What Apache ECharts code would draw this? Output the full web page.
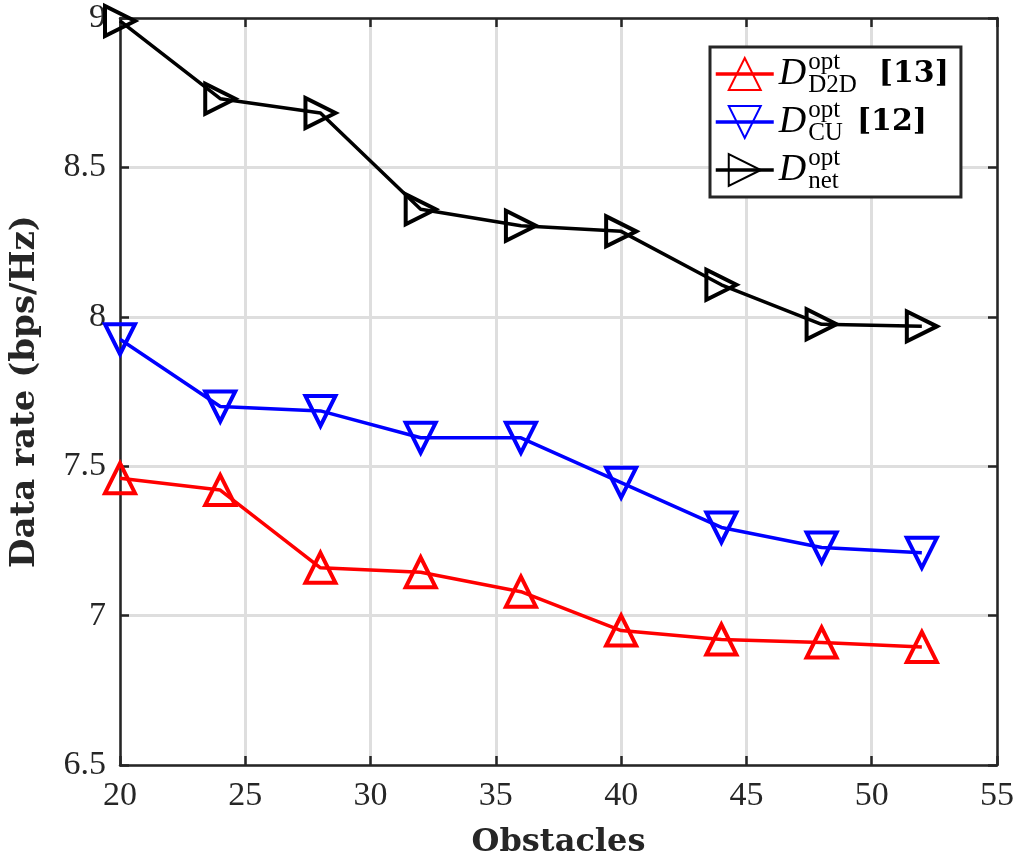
<!DOCTYPE html>
<html>
<head>
<meta charset="utf-8">
<script src="https://cdn.jsdelivr.net/npm/echarts@6/dist/echarts.min.js"></script>
<style>
  html, body { margin: 0; padding: 0; background: #fff; }
  #container { width: 1026px; height: 864px; }
</style>
</head>
<body>
<div id="container"></div>
<script>
  var dom = document.getElementById("container");
  var myChart = echarts.init(dom);

  // data
  var obstacles = [20, 24, 28, 32, 36, 40, 44, 48, 52];
  var rateD2D = [7.46, 7.42, 7.16, 7.145, 7.08, 6.95, 6.92, 6.91, 6.895];
  var rateCU = [7.925, 7.70, 7.685, 7.595, 7.595, 7.445, 7.295, 7.228, 7.21];
  var rateNet = [8.99, 8.73, 8.682, 8.36, 8.305, 8.286, 8.107, 7.975, 7.968];

  var xTicks = { min: 20, max: 55, interval: 5 };
  var yTicks = { min: 6.5, max: 9, interval: 0.5 };

  var serif = '"Liberation Serif", "DejaVu Serif", serif';
  var boldSerif = '"DejaVu Serif", serif';
  var axisCol = '#262626';

  function pairs(ys) {
      return obstacles.map(function (x, i) { return [x, ys[i]]; });
  }

  var legendText = {
      d2d: '{D|D}{sup|opt}{sub|D2D}{ref|[13]}',
      cu: '{D|D}{sup|opt}{sub|CU}{ref2|[12]}',
      net: '{D|D}{sup|opt}{sub|net}'
  };

  function mkSeries(name, ys, col, rot) {
      return {
          name: name,
          type: 'line',
          data: pairs(ys),
          xAxisIndex: 0,
          yAxisIndex: 0,
          clip: false,
          symbol: 'triangle',
          symbolSize: 30,
          symbolRotate: rot,
          showSymbol: true,
          lineStyle: { color: col, width: 3.5 },
          itemStyle: { color: 'rgba(255,255,255,0)', borderColor: col, borderWidth: 4 },
          emphasis: { disabled: true }
      };
  }

  var hiddenAxis = function (pos, extra) {
      var a = {
          type: 'value',
          position: pos,
          axisLine: { show: true, onZero: false, lineStyle: { color: axisCol, width: 2.5 } },
          axisTick: { show: true, inside: true, length: 9, lineStyle: { color: axisCol, width: 2.5 } },
          axisLabel: { show: false },
          splitLine: { show: false }
      };
      return Object.assign(a, extra);
  };

  option = {
      animation: false,
      backgroundColor: '#fff',
      grid: { left: 120, right: 29, top: 18, bottom: 98 },

      legend: {
          orient: 'vertical',
          left: 710,
          top: 47,
          padding: [3, 12, 3, 4],
          itemGap: 0,
          itemWidth: 58,
          itemHeight: 40,
          backgroundColor: '#fff',
          borderColor: axisCol,
          borderWidth: 3,
          borderRadius: 0,
          lineStyle: { width: 3.5 },
          data: ['d2d', 'cu', 'net'],
          formatter: function (n) { return legendText[n]; },
          textStyle: {
              color: '#000',
              rich: {
                  D: { fontFamily: serif, fontStyle: 'italic', fontSize: 38, lineHeight: 48, padding: [0, 2, 0, 0] },
                  sup: { fontFamily: serif, fontSize: 25, width: 0, verticalAlign: 'top', lineHeight: 46 },
                  sub: { fontFamily: serif, fontSize: 25, verticalAlign: 'bottom', lineHeight: 38 },
                  ref: { fontFamily: boldSerif, fontWeight: 'bold', fontSize: 30, padding: [0, 0, 0, 22] },
                  ref2: { fontFamily: boldSerif, fontWeight: 'bold', fontSize: 30, padding: [0, 0, 0, 14] }
              }
          }
      },

      xAxis: [{
          type: 'value',
          min: xTicks.min, max: xTicks.max, interval: xTicks.interval,
          name: 'Obstacles',
          nameLocation: 'middle',
          nameGap: 62,
          nameTextStyle: { fontFamily: boldSerif, fontWeight: 'bold', fontSize: 32, color: '#262626' },
          axisLine: { show: true, onZero: false, lineStyle: { color: axisCol, width: 2.5 } },
          axisTick: { show: true, inside: true, length: 9, lineStyle: { color: axisCol, width: 2.5 } },
          axisLabel: { fontFamily: serif, fontSize: 34, color: '#262626', margin: 14 },
          splitLine: { show: true, lineStyle: { color: '#dedede', width: 3 } }
      }, hiddenAxis('top', { min: xTicks.min, max: xTicks.max, interval: xTicks.interval })],

      yAxis: [{
          type: 'value',
          min: yTicks.min, max: yTicks.max, interval: yTicks.interval,
          name: 'Data rate (bps/Hz)',
          nameLocation: 'middle',
          nameGap: 78,
          nameTextStyle: { fontFamily: boldSerif, fontWeight: 'bold', fontSize: 34, color: '#262626' },
          axisLine: { show: true, onZero: false, lineStyle: { color: axisCol, width: 2.5 } },
          axisTick: { show: true, inside: true, length: 9, lineStyle: { color: axisCol, width: 2.5 } },
          axisLabel: { fontFamily: serif, fontSize: 34, color: '#262626', margin: 14 },
          splitLine: { show: true, lineStyle: { color: '#dedede', width: 3 } }
      }, hiddenAxis('right', { min: yTicks.min, max: yTicks.max, interval: yTicks.interval })],

      series: [
          mkSeries('d2d', rateD2D, '#ff0000', 0),
          mkSeries('cu', rateCU, '#0000ff', 180),
          mkSeries('net', rateNet, '#000000', -90)
      ]
  };

  if (option && typeof option === "object") {
      myChart.setOption(option, true);
  }
</script>
</body>
</html>
